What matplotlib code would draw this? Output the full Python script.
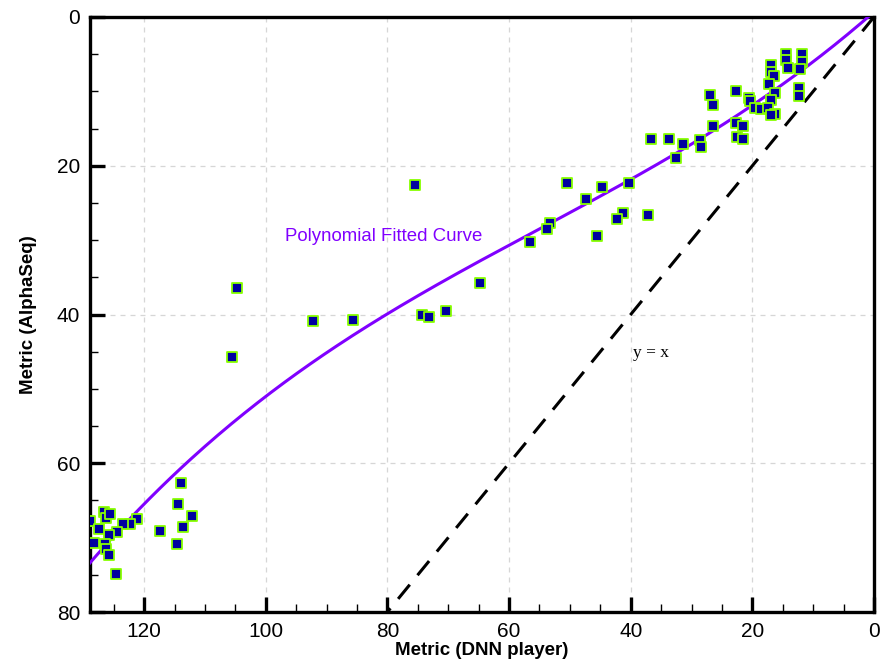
import matplotlib
matplotlib.use("Agg")
import matplotlib.pyplot as plt
import numpy as np
from matplotlib.ticker import MultipleLocator

plt.rcParams['font.family'] = ['Liberation Sans', 'DejaVu Sans']

# Scatter data: Metric (DNN player) vs Metric (AlphaSeq)
dnn = [14.4, 11.9, 14.5, 11.9, 16.9, 14.1, 12.1, 16.9, 16.4, 17.3,
       22.7, 12.4, 12.3, 16.2, 20.5, 20.4, 17.0, 19.5, 18.5, 17.5,
       16.2, 17.0, 22.7, 21.5, 22.5, 21.5,
       27.0, 26.4, 26.4, 36.6, 33.7, 31.4, 28.6, 28.5, 32.5,
       50.4, 44.7, 40.3, 47.3, 53.3, 53.7, 56.6, 41.2, 42.3, 37.2, 45.6, 64.8,
       75.5, 104.8, 105.6, 92.3, 85.6, 74.3, 73.1, 70.4,
       113.9, 114.4, 112.2, 113.6, 117.4, 114.6, 121.1, 122.4, 123.4, 124.5,
       125.7, 126.6, 126.2, 125.6, 128.9, 127.4, 128.3, 126.5, 126.2, 125.7, 124.7]
alphaseq = [5.0, 5.0, 5.8, 6.1, 6.5, 6.9, 7.0, 7.4, 7.9, 9.0,
            10.0, 9.6, 10.6, 10.2, 10.9, 11.3, 11.1, 12.2, 12.4, 12.3,
            13.0, 13.2, 14.3, 14.7, 16.2, 16.4,
            10.5, 11.8, 14.7, 16.4, 16.4, 17.1, 16.5, 17.5, 19.0,
            22.3, 22.8, 22.3, 24.5, 27.7, 28.5, 30.3, 26.4, 27.2, 26.6, 29.4, 35.7,
            22.6, 36.4, 45.7, 40.9, 40.7, 40.0, 40.3, 39.5,
            62.7, 65.5, 67.1, 68.6, 69.1, 70.9, 67.5, 68.2, 68.2, 69.2,
            69.7, 66.5, 67.3, 66.8, 67.8, 68.9, 70.7, 70.8, 71.5, 72.3, 74.9]

# Polynomial fitted curve: points
fit_x = [128.4, 122.4, 114.1, 101.0, 92.2, 80.1, 64.8, 59.9, 41.8, 39.8, 34.1, 19.8, 3.4, 1.2]
fit_y = [72.6, 67.7, 61.2, 51.5, 46.2, 39.9, 32.6, 31.1, 22.6, 21.3, 19.2, 12.07, 1.75, 0.0]

# Reference line y = x
ref_x = [0, 80]
ref_y = [0, 80]

fig = plt.figure(figsize=(8.81, 6.6), dpi=100)
ax = fig.add_axes([90/881, 1-612/660, (874-90)/881, (612-17)/660])

ax.plot(ref_x, ref_y, color='black', lw=2.2, dashes=(6, 4), zorder=2)

# smooth cubic through the read curve points (the chart shows a polynomial fit)
coef = np.polyfit(fit_x, fit_y, 3)
xs = np.linspace(min(fit_x) - 1.2, 129.5, 300)
ax.plot(xs, np.polyval(coef, xs), color='#8000FF', lw=2.2, zorder=3)

ax.scatter(dnn, alphaseq, marker='s', s=60, facecolor='#0000A0',
           edgecolor='#88FF00', linewidths=1.3, zorder=4, clip_on=True)

ax.text(96.9, 29.5, 'Polynomial Fitted Curve', color='#8000FF', fontsize=13.4,
        ha='left', va='center', zorder=5)
ax.text(39.6, 45.2, 'y = x', color='black', fontsize=12.5, family='Liberation Serif',
        ha='left', va='center', zorder=5)

ax.set_xlim(128.9, 0)
ax.set_ylim(80, 0)
ax.xaxis.set_major_locator(MultipleLocator(20))
ax.xaxis.set_minor_locator(MultipleLocator(5))
ax.yaxis.set_major_locator(MultipleLocator(20))
ax.yaxis.set_minor_locator(MultipleLocator(5))

ax.grid(True, which='major', color='#d6d6d6', ls='--', lw=0.9, dashes=(4, 4))
ax.set_axisbelow(True)

ax.tick_params(which='major', direction='in', length=11, width=2.4,
               labelsize=15, pad=7, top=False, right=False)
ax.tick_params(which='minor', direction='in', length=6, width=1.0,
               top=False, right=False)
for sp in ax.spines.values():
    sp.set_linewidth(2.4)

ax.set_xlabel('Metric (DNN player)', fontsize=13.5, fontweight='bold', labelpad=1)
ax.set_ylabel('Metric (AlphaSeq)', fontsize=13.5, fontweight='bold', labelpad=14)

fig.savefig('out.png', dpi=100)
